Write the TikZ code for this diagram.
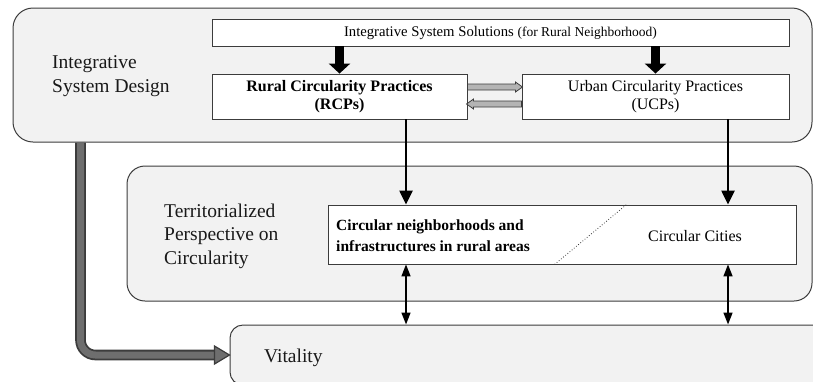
\documentclass[tikz,border=0pt]{standalone}
\usepackage{fontspec}
\setmainfont{Liberation Serif}
\usetikzlibrary{arrows.meta,calc}
\definecolor{panelfill}{HTML}{F2F2F2}
\definecolor{edgecol}{HTML}{3C3C3C}
\definecolor{bigarrow}{HTML}{6E6E6E}
\definecolor{smallarrow}{HTML}{B4B4B4}
\begin{document}
\begin{tikzpicture}[x=1pt,y=-1pt,
 panel/.style={draw=edgecol,fill=panelfill,line width=1pt,rounded corners=#1,inner sep=0pt},
 panel/.default=20pt,
 whitebox/.style={draw=edgecol,fill=white,line width=0.9pt,inner sep=0pt,align=center,text=black},
 label/.style={inner sep=0pt,align=left,font=\fontsize{19.5}{23.5}\selectfont,text=black!90},
 heavy/.style={line width=9pt,-{Triangle[width=21pt,length=10pt]}},
 mid/.style={line width=2.4pt,-{Triangle[width=13pt,length=14pt]}},
 both/.style={line width=1.6pt,{Triangle[width=9pt,length=12pt]}-{Triangle[width=9pt,length=12pt]}},
 graytip/.style={draw=edgecol,fill=smallarrow,line width=0.8pt},
 bigshaft/.style={draw=edgecol,line width=1.8pt,double=bigarrow,double distance=7pt,rounded corners=15pt},
 bighead/.style={draw=edgecol,fill=bigarrow,line width=1.2pt,line join=miter}]
\useasboundingbox (0,0) rectangle (813,381);
\clip (0,0) rectangle (813,381);
% panels
\node[panel=20pt,minimum width=799pt,minimum height=134pt] (p1) at (412.5,75) {};
\node[panel=18pt,minimum width=685pt,minimum height=135pt] (p2) at (469.5,233.5) {};
\node[panel=13pt,minimum width=600pt,minimum height=60pt] (p3) at (530,355) {};
% panel labels
\node[label,anchor=west] (l1) at (52,76) {Integrative\\System Design};
\node[label,anchor=west] (l2) at (164,236) {Territorialized\\Perspective on\\Circularity};
\node[label,anchor=base west] (l3) at (264,362) {Vitality};
% boxes
\node[whitebox,minimum width=577pt,minimum height=27pt] (sol) at (500.5,32.5)
 {{\fontsize{14.7}{17}\selectfont Integrative System Solutions }{\fontsize{13.5}{16}\selectfont(for Rural Neighborhood)}};
\node[whitebox,minimum width=255pt,minimum height=45pt,font=\bfseries\fontsize{16}{18}\selectfont] (rcp) at (339.5,96.5) {Rural Circularity Practices\\(RCPs)};
\node[whitebox,minimum width=267pt,minimum height=45pt,font=\fontsize{16}{18}\selectfont] (ucp) at (655.5,96.5) {Urban Circularity Practices\\(UCPs)};
\node[whitebox,minimum width=468pt,minimum height=59pt] (circ) at (562,234.5) {};
\node[inner sep=0pt,anchor=west,align=left,text=black,font=\bfseries\fontsize{15.5}{21}\selectfont] (circtxt) at (336,236) {Circular neighborhoods and\\infrastructures in rural areas};
\node[inner sep=0pt,text=black,font=\fontsize{16}{18}\selectfont] (cities) at (695,236) {Circular Cities};
\draw[edgecol,dotted,line width=0.8pt] ([xshift=227pt]circ.south west) -- ([xshift=299pt]circ.north west);
% heavy arrows
\draw[heavy] (sol.south -| rcp.north) -- (rcp.north);
\draw[heavy] (sol.south -| ucp.north) -- (ucp.north);
% gray exchange arrows
\draw[graytip] ($(rcp.east)+(0,-12.5)$) -- ++(48,0) -- ++(0,-2) -- ++(7,5) -- ++(-7,5) -- ++(0,-2) -- ++(-48,0) -- cycle;
\draw[graytip] ($(ucp.west)+(0,4.5)$) -- ++(-48,0) -- ++(0,-2) -- ++(-7,5) -- ++(7,5) -- ++(0,-2) -- ++(48,0) -- cycle;
% down arrows
\coordinate (a1) at ([xshift=66.5pt]rcp.south);
\coordinate (a2) at ([xshift=72.5pt]ucp.south);
\draw[mid] (a1) -- (a1 |- circ.north);
\draw[mid] (a2) -- (a2 |- circ.north);
\draw[both] (a1 |- circ.south) -- (a1 |- p3.north);
\draw[both] (a2 |- circ.south) -- (a2 |- p3.north);
% big gray arrow
\coordinate (b1) at ([xshift=-332pt]p1.south);
\coordinate (b2) at ([xshift=-15pt]p3.west);
\draw[bigshaft] (b1) |- ([xshift=1pt]b2);
\draw[bighead] ($(b2)+(0,-9)$) -- (p3.west) -- ($(b2)+(0,9)$) -- cycle;
\end{tikzpicture}
\end{document}
